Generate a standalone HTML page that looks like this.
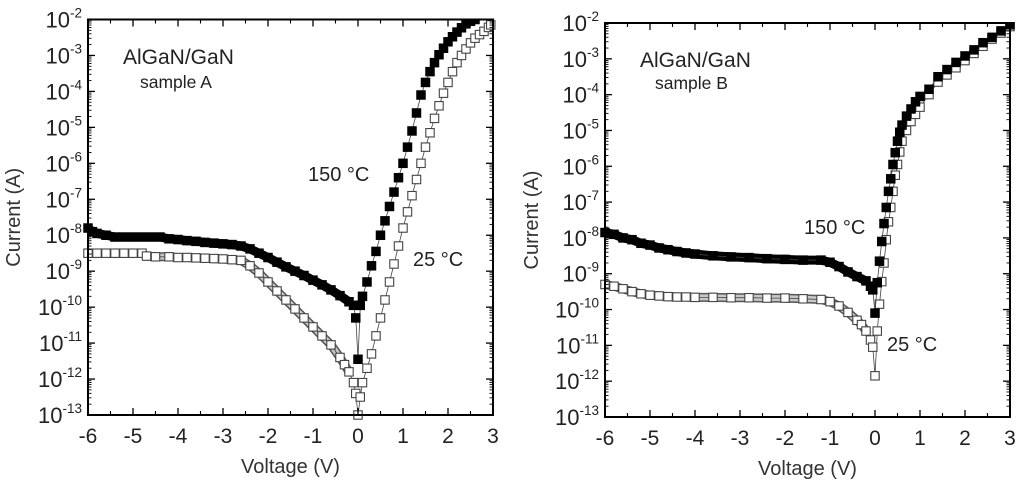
<!DOCTYPE html>
<html><head><meta charset="utf-8"><style>
html,body{margin:0;padding:0;background:#fff}
svg{display:block;font-family:"Liberation Sans",Arial,sans-serif}
</style></head><body>
<svg id="fig" width="1024" height="487" viewBox="0 0 1024 487"></svg>
<script>
// ---- Data (Voltage V, log10 Current A) ----
const A_hot_V = [-6,-5.9,-5.8,-5.6,-5.4,-5.2,-5,-4.8,-4.6,-4.4,-4.2,-4,-3.8,-3.6,-3.4,-3.2,-3,-2.8,-2.6,-2.4,-2.2,-2,-1.8,-1.6,-1.4,-1.2,-1,-0.8,-0.6,-0.4,-0.2,-0.1,-0.05,0,0.05,0.1,0.2,0.3,0.4,0.5,0.6,0.7,0.8,0.9,1.0,1.1,1.2,1.3,1.4,1.5,1.6,1.7,1.8,1.9,2.0,2.1,2.2,2.3,2.4,2.5,2.6];
const A_hot_L = [-7.8,-7.9,-7.95,-8.0,-8.05,-8.05,-8.05,-8.05,-8.05,-8.05,-8.1,-8.12,-8.15,-8.17,-8.2,-8.22,-8.24,-8.26,-8.3,-8.38,-8.5,-8.62,-8.75,-8.88,-9.0,-9.12,-9.25,-9.38,-9.52,-9.68,-9.85,-9.95,-10.3,-11.45,-9.95,-9.7,-9.3,-8.85,-8.45,-8.0,-7.6,-7.2,-6.8,-6.4,-6.0,-5.55,-5.1,-4.6,-4.1,-3.75,-3.45,-3.2,-2.98,-2.8,-2.62,-2.48,-2.35,-2.23,-2.12,-2.05,-2.0];
const A_cold_V = [-6,-5.8,-5.6,-5.4,-5.2,-5,-4.8,-4.7,-4.5,-4.2,-4,-3.8,-3.6,-3.4,-3.2,-3,-2.8,-2.6,-2.4,-2.2,-2,-1.8,-1.6,-1.4,-1.2,-1,-0.8,-0.6,-0.4,-0.3,-0.2,-0.1,-0.05,0,0.05,0.1,0.2,0.3,0.4,0.5,0.6,0.7,0.8,0.9,1.0,1.1,1.2,1.3,1.4,1.5,1.6,1.7,1.8,1.9,2.0,2.1,2.2,2.3,2.4,2.5,2.6,2.7,2.8,2.9,2.95];
const A_cold_L = [-8.5,-8.5,-8.5,-8.5,-8.5,-8.5,-8.5,-8.58,-8.6,-8.6,-8.62,-8.62,-8.63,-8.64,-8.65,-8.66,-8.68,-8.7,-8.85,-9.05,-9.3,-9.55,-9.8,-10.05,-10.3,-10.55,-10.8,-11.05,-11.4,-11.6,-11.8,-12.1,-12.4,-13.0,-12.5,-12.1,-11.7,-11.3,-10.8,-10.3,-9.8,-9.3,-8.8,-8.3,-7.8,-7.35,-6.9,-6.45,-6.0,-5.55,-5.15,-4.75,-4.4,-4.05,-3.75,-3.45,-3.2,-3.0,-2.82,-2.65,-2.52,-2.42,-2.33,-2.22,-2.15];
const B_hot_V = [-6,-5.8,-5.6,-5.4,-5.2,-5,-4.8,-4.6,-4.4,-4.2,-4,-3.6,-3.2,-2.8,-2.4,-2,-1.6,-1.2,-1,-0.8,-0.6,-0.4,-0.2,-0.1,-0.05,0,0.05,0.1,0.15,0.2,0.25,0.3,0.35,0.4,0.45,0.5,0.55,0.6,0.7,0.8,0.9,1.0,1.2,1.4,1.6,1.8,2.0,2.2,2.4,2.6,2.8,3.0];
const B_hot_L = [-7.85,-7.9,-8.0,-8.05,-8.15,-8.2,-8.28,-8.33,-8.38,-8.42,-8.45,-8.5,-8.53,-8.55,-8.58,-8.6,-8.62,-8.62,-8.68,-8.8,-8.95,-9.08,-9.2,-9.35,-9.45,-10.1,-9.25,-8.65,-8.1,-7.6,-7.15,-6.7,-6.35,-5.95,-5.62,-5.3,-5.05,-4.85,-4.6,-4.4,-4.2,-4.05,-3.85,-3.5,-3.3,-3.1,-2.92,-2.75,-2.55,-2.4,-2.22,-2.05];
const B_cold_V = [-6,-5.8,-5.6,-5.4,-5.2,-5,-4.8,-4.6,-4.4,-4.2,-4,-3.6,-3.2,-2.8,-2.4,-2,-1.6,-1.2,-1,-0.8,-0.6,-0.4,-0.3,-0.2,-0.1,-0.05,0,0.05,0.1,0.15,0.2,0.25,0.3,0.35,0.4,0.45,0.5,0.55,0.6,0.7,0.8,0.9,1.0,1.2,1.4,1.6,1.8,2.0,2.2,2.4,2.6,2.8,3.0];
const B_cold_L = [-9.3,-9.35,-9.42,-9.5,-9.56,-9.6,-9.62,-9.64,-9.65,-9.65,-9.66,-9.66,-9.67,-9.67,-9.68,-9.68,-9.7,-9.72,-9.78,-9.9,-10.08,-10.3,-10.42,-10.6,-10.85,-11.05,-11.85,-10.6,-9.85,-9.22,-8.7,-8.05,-7.55,-7.15,-6.7,-6.25,-5.95,-5.6,-5.3,-5.0,-4.75,-4.55,-4.35,-4.0,-3.65,-3.45,-3.25,-3.05,-2.85,-2.65,-2.45,-2.28,-2.1];
const xTicks = [-6,-5,-4,-3,-2,-1,0,1,2,3];
const yExps = [-2,-3,-4,-5,-6,-7,-8,-9,-10,-11,-12,-13];

const NS = "http://www.w3.org/2000/svg";
const svg = document.getElementById('fig');
function el(tag, attrs, parent){const e=document.createElementNS(NS,tag);for(const k in attrs)e.setAttribute(k,attrs[k]);(parent||svg).appendChild(e);return e;}

function panel(cfg){
  const g = el('g',{});
  
  
  const {x0,x1,y0,y1} = cfg;
  const sx = v => x0 + (v+6)/9*(x1-x0);
  const sy = l => y0 + (-2 - l)/11*(y1-y0);
  const MS = 8.4;
  function series(V,L,filled,name){
    const sg = el('g',{},g);
    
    
    const pts = V.map((v,i)=>sx(v).toFixed(1)+','+sy(Math.max(L[i],-13.05)).toFixed(1));
    const neg = V.map((v,i)=>[v,L[i]]).filter(p=>p[0]<=-0.2).map(p=>sx(p[0]).toFixed(1)+','+sy(p[1]).toFixed(1)).join(' ');
    if(filled){
      el('polyline',{points:neg,fill:'none',stroke:'#000','stroke-width':9,'stroke-linejoin':'round'},sg);
    } else {
      el('polyline',{points:neg,fill:'none',stroke:'#555','stroke-width':9,'stroke-linejoin':'round'},sg);
      el('polyline',{points:neg,fill:'none',stroke:'#c8c8c8','stroke-width':6,'stroke-linejoin':'round'},sg);
    }
    el('polyline',{points:pts.join(' '),fill:'none',stroke:'#444','stroke-width':0.8},sg);
    V.forEach((v,i)=>{
      const m = el('rect',{x:sx(v)-MS/2,y:sy(Math.max(L[i],-13.05))-MS/2,width:MS,height:MS,fill:filled?'#000':'#fff',stroke:filled?'#000':'#444','stroke-width':1.1},sg);
      
      
    });
  }
  series(cfg.cv,cfg.cl,false,'series-25c');
  series(cfg.hv,cfg.hl,true,'series-150c');
  el('rect',{x:x0-2,y:0,width:x1-x0+14,height:y0-1,fill:'#fff'},g);
  const fr = el('rect',{x:x0,y:y0,width:x1-x0,height:y1-y0,fill:'none',stroke:'#000','stroke-width':2},g);
  
  
  xTicks.forEach(t=>{
    const X = sx(t);
    el('line',{x1:X,x2:X,y1:y1,y2:y1-7,stroke:'#000','stroke-width':1.3},g);
    el('line',{x1:X,x2:X,y1:y0,y2:y0+7,stroke:'#000','stroke-width':1.3},g);
    if(t<3){const h=sx(t+0.5);
      el('line',{x1:h,x2:h,y1:y1,y2:y1-4,stroke:'#000','stroke-width':1.1},g);
      el('line',{x1:h,x2:h,y1:y0,y2:y0+4,stroke:'#000','stroke-width':1.1},g);}
    const tx = el('text',{x:X,y:y1+28,'font-size':21,'text-anchor':'middle',fill:'#222'},g);
    tx.textContent = t;
    
    
  });
  yExps.forEach(e=>{
    const Y = sy(e);
    el('line',{x1:x0,x2:x0+7,y1:Y,y2:Y,stroke:'#000','stroke-width':1.3},g);
    el('line',{x1:x1,x2:x1-7,y1:Y,y2:Y,stroke:'#000','stroke-width':1.3},g);
    if(e>-13){for(let k=2;k<10;k++){const yy=sy(e-1+Math.log10(k));
      el('line',{x1:x0,x2:x0+3.5,y1:yy,y2:yy,stroke:'#000','stroke-width':0.9},g);
      el('line',{x1:x1,x2:x1-3.5,y1:yy,y2:yy,stroke:'#000','stroke-width':0.9},g);}}
    const tx = el('text',{x:x0-6,y:Y+8,'font-size':22,'text-anchor':'end',fill:'#222'},g);
    
    
    const a = el('tspan',{},tx); a.textContent='10';
    const b = el('tspan',{dy:-10,'font-size':13.5},tx); b.textContent=String(e);
  });
  const xt = el('text',{x:(x0+x1)/2,y:y1+58,'font-size':20,'text-anchor':'middle',fill:'#333'},g);
  xt.textContent='Voltage (V)';
   
  const yt = el('text',{x:0,y:0,'font-size':20,'text-anchor':'middle',fill:'#333',transform:`translate(${cfg.ytx},${(y0+y1)/2}) rotate(-90)`},g);
  yt.textContent='Current (A)';
   
  cfg.labels.forEach(l=>{
    const t = el('text',{x:l[0],y:l[1],'font-size':l[2],fill:'#222'},g);
    t.textContent=l[3];
     
  });
}
panel({name:'chart-sample-a',x0:88,x1:493,y0:19.5,y1:415,ytx:20,
  hv:A_hot_V,hl:A_hot_L,cv:A_cold_V,cl:A_cold_L,
  labels:[[123,64,21,'AlGaN/GaN','title-label'],[140,88,17.5,'sample A','sample-label'],[308,181,20,'150 °C','label-150c'],[413,266,20,'25 °C','label-25c']]});
panel({name:'chart-sample-b',x0:605,x1:1010,y0:23,y1:417,ytx:538,
  hv:B_hot_V,hl:B_hot_L,cv:B_cold_V,cl:B_cold_L,
  labels:[[640,67,21,'AlGaN/GaN','title-label'],[655,89,17.5,'sample B','sample-label'],[804,234,20,'150 °C','label-150c'],[887,351,20,'25 °C','label-25c']]});
</script>
</body></html>
